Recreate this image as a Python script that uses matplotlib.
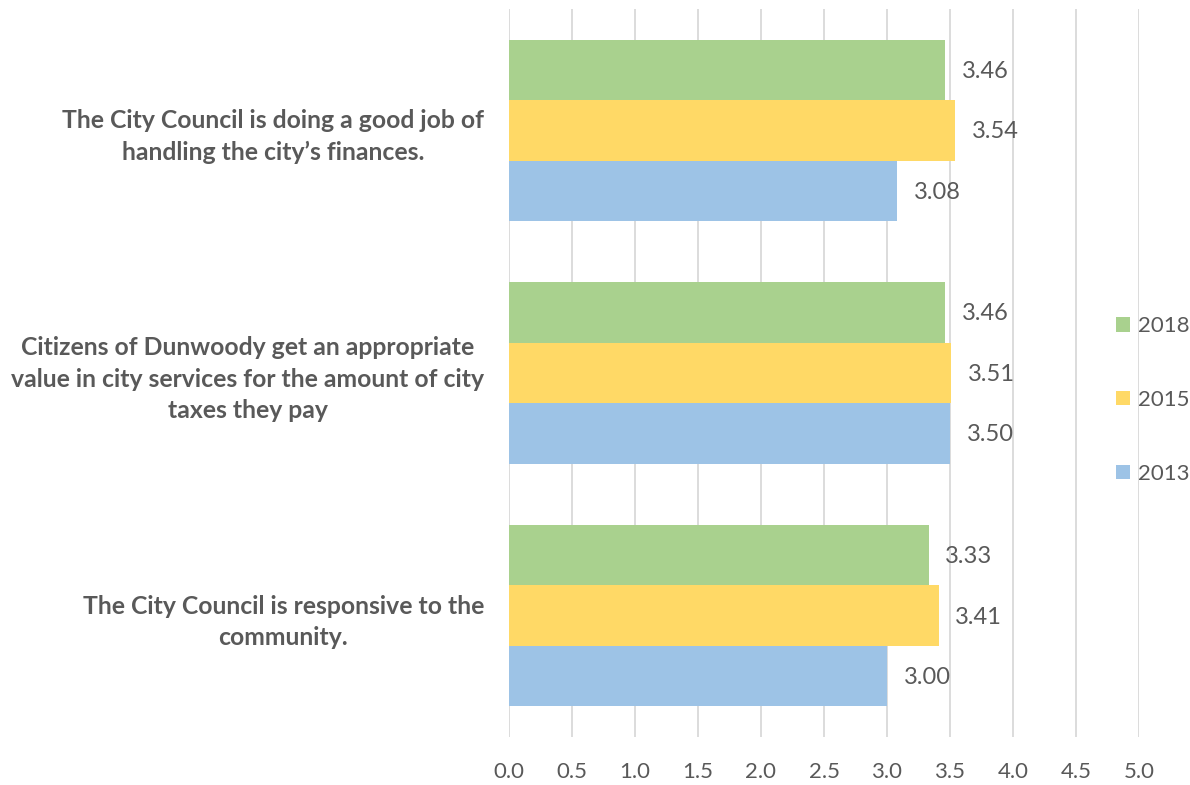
import matplotlib
matplotlib.use("Agg")
import matplotlib.pyplot as plt
import numpy as np
from matplotlib.patches import Patch

categories = [
    "The City Council is doing a good job of\nhandling the city\u2019s finances.",
    "Citizens of Dunwoody get an appropriate\nvalue in city services for the amount of city\ntaxes they pay",
    "The City Council is responsive to the\ncommunity.",
]
series_names = ["2018", "2015", "2013"]
values_2018 = [3.46, 3.46, 3.33]
values_2015 = [3.54, 3.51, 3.41]
values_2013 = [3.08, 3.50, 3.00]
x_ticks = [0.0, 0.5, 1.0, 1.5, 2.0, 2.5, 3.0, 3.5, 4.0, 4.5, 5.0]

colors = ["#A9D18E", "#FFD966", "#9DC3E6"]
text_color = "#595959"
font = ["Lato", "DejaVu Sans"]
plt.rcParams["font.family"] = font

fig = plt.figure(figsize=(11.9, 7.85), dpi=100)
ax = fig.add_axes([509 / 1190, 1 - 737 / 785, 630 / 1190, 728 / 785])

y = np.arange(len(categories))
h = 0.249
offsets = [-h, 0.0, h]
all_vals = [values_2018, values_2015, values_2013]
for vals, off, col, name in zip(all_vals, offsets, colors, series_names):
    bars = ax.barh(y + off, vals, height=h, color=col, label=name, zorder=2)
    for b, v in zip(bars, vals):
        ax.annotate(f"{v:.2f}", (v, b.get_y() + b.get_height() / 2),
                    xytext=(12, -1), textcoords="offset points",
                    ha="left", va="center", fontsize=17, color=text_color)

ax.set_xlim(0, 5.0)
ax.set_ylim(2.5, -0.5)
ax.set_xticks(x_ticks)
ax.set_xticklabels([f"{t:.1f}" for t in x_ticks])
ax.set_yticks(y)
ax.set_yticklabels(categories, fontweight="bold", multialignment="center",
                   linespacing=1.45)
ax.tick_params(axis="x", length=0, pad=18, labelsize=16, labelcolor=text_color)
ax.tick_params(axis="y", length=0, pad=18, labelsize=17.8, labelcolor=text_color)
ax.grid(axis="x", color="#D9D9D9", linewidth=1.3, zorder=0)
ax.set_axisbelow(True)
for s in ax.spines.values():
    s.set_visible(False)

handles = [Patch(facecolor=c, edgecolor="none") for c in colors]
leg = fig.legend(handles, series_names, loc="center left",
                 bbox_to_anchor=(1116 / 1190, 1 - 400 / 785),
                 frameon=False, fontsize=16, labelspacing=2.42,
                 borderpad=0, borderaxespad=0,
                 handlelength=0.62, handleheight=0.62, handletextpad=0.35,
                 labelcolor=text_color)

fig.savefig("out.png", dpi=100)
